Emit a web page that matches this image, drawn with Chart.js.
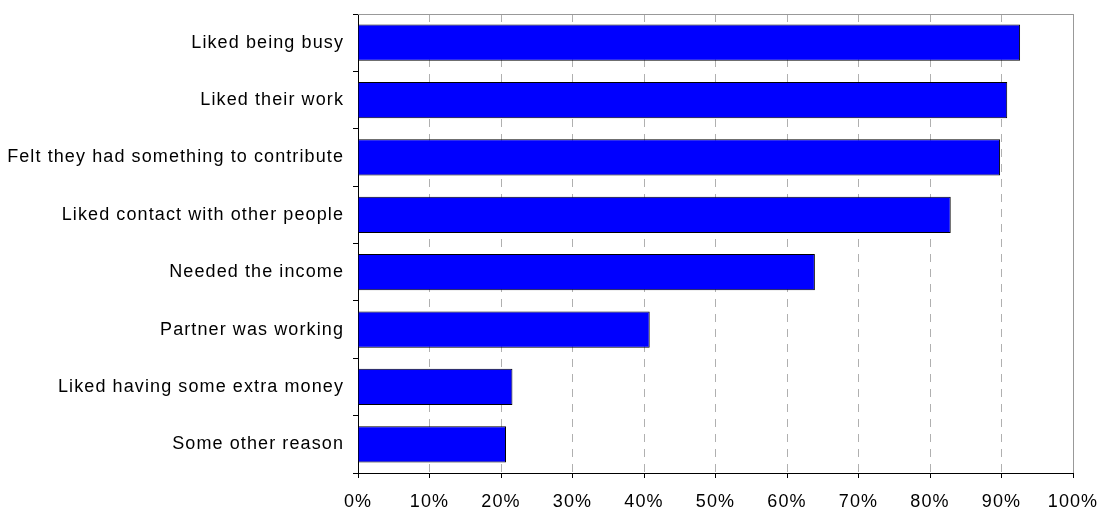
<!DOCTYPE html>
<html>
<head>
<meta charset="utf-8">
<script src="https://cdn.jsdelivr.net/npm/chart.js@4.4.0/dist/chart.umd.min.js"></script>
<style>
  html, body { margin: 0; padding: 0; background: #fff; }
  #wrap { width: 1100px; height: 508px; }
</style>
</head>
<body>
<div id="wrap"><canvas id="reasonsChart" width="1100" height="508"></canvas></div>
<script>
const reasons = [
    'Liked being busy',
    'Liked their work',
    'Felt they had something to contribute',
    'Liked contact with other people',
    'Needed the income',
    'Partner was working',
    'Liked having some extra money',
    'Some other reason'
];
const shares = [92.6, 90.8, 89.8, 82.9, 63.9, 40.8, 21.6, 20.7];
const xTicks = [0, 10, 20, 30, 40, 50, 60, 70, 80, 90, 100];

// wider letter spacing, like the original export
const spacing = {
    id: 'spacing',
    beforeLayout(chart) { chart.ctx.letterSpacing = '1.1px'; },
    beforeDraw(chart) { chart.ctx.letterSpacing = '1.1px'; }
};

// gray frame on top and right of the plot area
const frame = {
    id: 'frame',
    afterDatasetsDraw(chart) {
        const { ctx, chartArea: a } = chart;
        ctx.save();
        ctx.setLineDash([]);
        ctx.strokeStyle = '#999999';
        ctx.lineWidth = 1;
        ctx.beginPath();
        ctx.moveTo(a.left, a.top + 0.5);
        ctx.lineTo(a.right + 0.5, a.top + 0.5);
        ctx.lineTo(a.right + 0.5, a.bottom);
        ctx.stroke();
        ctx.restore();
    }
};

const ctx = document.getElementById('reasonsChart').getContext('2d');
new Chart(ctx, {
    type: 'bar',
    data: {
        labels: reasons,
        datasets: [{
            data: shares,
            backgroundColor: '#0000FF',
            borderColor: '#000000',
            borderWidth: 1,
            barPercentage: 0.63,
            categoryPercentage: 1
        }]
    },
    options: {
        indexAxis: 'y',
        responsive: false,
        animation: false,
        layout: { padding: { top: 14, right: 27, left: 0, bottom: 0 } },
        plugins: {
            legend: { display: false },
            tooltip: { enabled: false }
        },
        scales: {
            x: {
                min: 0,
                max: 100,
                afterBuildTicks: (scale) => { scale.ticks = xTicks.map(v => ({ value: v })); },
                afterFit: (scale) => {
                    scale.height = 35;
                    scale.paddingLeft = 0;
                    scale.paddingRight = 0;
                },
                grid: {
                    color: (c) => (c.index === 0 ? 'rgba(0,0,0,0)' : '#b0b0b0'),
                    tickColor: '#000000',
                    tickLength: 5
                },
                border: { color: '#000000', width: 1, dash: [8, 7] },
                ticks: {
                    color: '#000000',
                    padding: 13,
                    font: { family: 'Liberation Sans, Arial, sans-serif', size: 18 },
                    callback: (v) => v + '%'
                }
            },
            y: {
                afterFit: (scale) => {
                    scale.width = 358;
                    scale.paddingTop = 0;
                    scale.paddingBottom = 0;
                },
                grid: {
                    drawOnChartArea: false,
                    tickColor: '#000000',
                    tickLength: 5
                },
                border: { color: '#000000', width: 1 },
                ticks: {
                    color: '#000000',
                    padding: 9,
                    font: { family: 'Liberation Sans, Arial, sans-serif', size: 18 }
                }
            }
        }
    },
    plugins: [spacing, frame]
});
</script>
</body>
</html>
